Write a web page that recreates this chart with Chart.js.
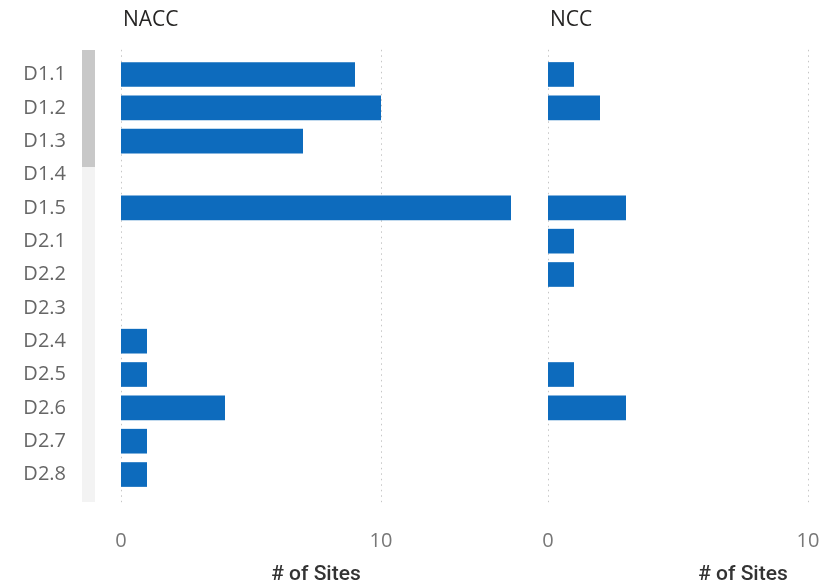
<!DOCTYPE html>
<html>
<head>
<meta charset="utf-8">
<script src="https://cdn.jsdelivr.net/npm/chart.js@4"></script>
<style>
  html, body { margin: 0; padding: 0; width: 823px; height: 584px; overflow: hidden; background: #fff; }
  #wrap { position: relative; width: 823px; height: 584px; overflow: hidden; }
  .panel { position: absolute; top: 0; }
  #track { position: absolute; left: 82px; top: 50px; width: 13px; height: 452px; background: #f3f3f3; }
  #thumb { position: absolute; left: 82px; top: 50px; width: 13px; height: 117px; background: #c8c8c8; }
</style>
</head>
<body>
<div id="wrap">
  <div id="track"></div>
  <div id="thumb"></div>
  <canvas id="c1" class="panel" width="540" height="584" style="left:0px"></canvas>
  <canvas id="c2" class="panel" width="430" height="584" style="left:530px"></canvas>
</div>
<script>
const categories = ['D1.1','D1.2','D1.3','D1.4','D1.5','D2.1','D2.2','D2.3','D2.4','D2.5','D2.6','D2.7','D2.8'];
const naccValues = [9, 10, 7, null, 15, null, null, null, 1, 1, 4, 1, 1];
const nccValues  = [1, 2, null, null, 3, 1, 1, null, null, 1, 3, null, null];
const panelNames = ['NACC', 'NCC'];
const xTickValues = [0, 10];
const xMax = 15;
const axisTitle = '# of Sites';

const BAR_COLOR = '#0d6bbd';

const panelTitlePlugin = {
  id: 'panelTitle',
  afterDraw(chart, args, opts) {
    const ctx = chart.ctx;
    ctx.save();
    ctx.font = '400 21px "Open Sans"';
    ctx.fillStyle = '#252423';
    ctx.textAlign = 'left';
    ctx.textBaseline = 'middle';
    ctx.fillText(opts.text, chart.chartArea.left + 2, 20);
    ctx.restore();
  }
};

const dottedGridPlugin = {
  id: 'dottedGrid',
  beforeDatasetsDraw(chart) {
    const ctx = chart.ctx;
    const xs = chart.scales.x;
    const area = chart.chartArea;
    ctx.save();
    ctx.strokeStyle = '#c6c6c6';
    ctx.lineWidth = 1;
    ctx.setLineDash([1.5, 4]);
    xs.ticks.forEach(t => {
      const px = Math.round(xs.getPixelForValue(t.value)) + 0.5;
      ctx.beginPath();
      ctx.moveTo(px, area.top - 8);
      ctx.lineTo(px, area.bottom + 11);
      ctx.stroke();
    });
    ctx.restore();
  }
};

function makePanel(canvasId, values, name, showY, padLeft, padRight) {
  return new Chart(document.getElementById(canvasId), {
    type: 'bar',
    data: {
      labels: categories,
      datasets: [{
        label: name,
        data: values,
        backgroundColor: BAR_COLOR,
        borderWidth: 0,
        categoryPercentage: 1,
        barPercentage: 0.74,
        clip: false
      }]
    },
    options: {
      indexAxis: 'y',
      responsive: false,
      animation: false,
      devicePixelRatio: 1,
      layout: { padding: { top: 57.8, bottom: 0, left: padLeft, right: padRight } },
      plugins: {
        legend: { display: false },
        tooltip: { enabled: false },
        panelTitle: { text: name }
      },
      scales: {
        y: {
          display: showY,
          grid: { display: false, drawTicks: false },
          border: { display: false },
          ticks: {
            padding: 55,
            color: '#666',
            font: { family: '"Open Sans"', size: 20 }
          },
          afterFit(scale) {
            if (showY) scale.width = 121;
            scale.paddingTop = 0;
            scale.paddingBottom = 0;
          }
        },
        x: {
          min: 0,
          max: xMax,
          grid: { display: false, drawTicks: false },
          border: { display: false },
          afterBuildTicks(scale) {
            scale.ticks = xTickValues.map(v => ({ value: v }));
          },
          ticks: {
            padding: 38.5,
            color: '#777',
            font: { family: '"Open Sans"', size: 20 }
          },
          title: {
            display: true,
            text: axisTitle,
            color: '#333',
            padding: { top: 0, bottom: -3 },
            font: { family: 'Roboto', size: 21, weight: '500' }
          },
          afterFit(scale) {
            scale.height = 584 - 491.2;
            scale.paddingLeft = 0;
            scale.paddingRight = 0;
          }
        }
      }
    },
    plugins: [panelTitlePlugin, dottedGridPlugin]
  });
}

makePanel('c1', naccValues, panelNames[0], true, 0, 29);
makePanel('c2', nccValues, panelNames[1], false, 18, 22);
</script>
</body>
</html>
